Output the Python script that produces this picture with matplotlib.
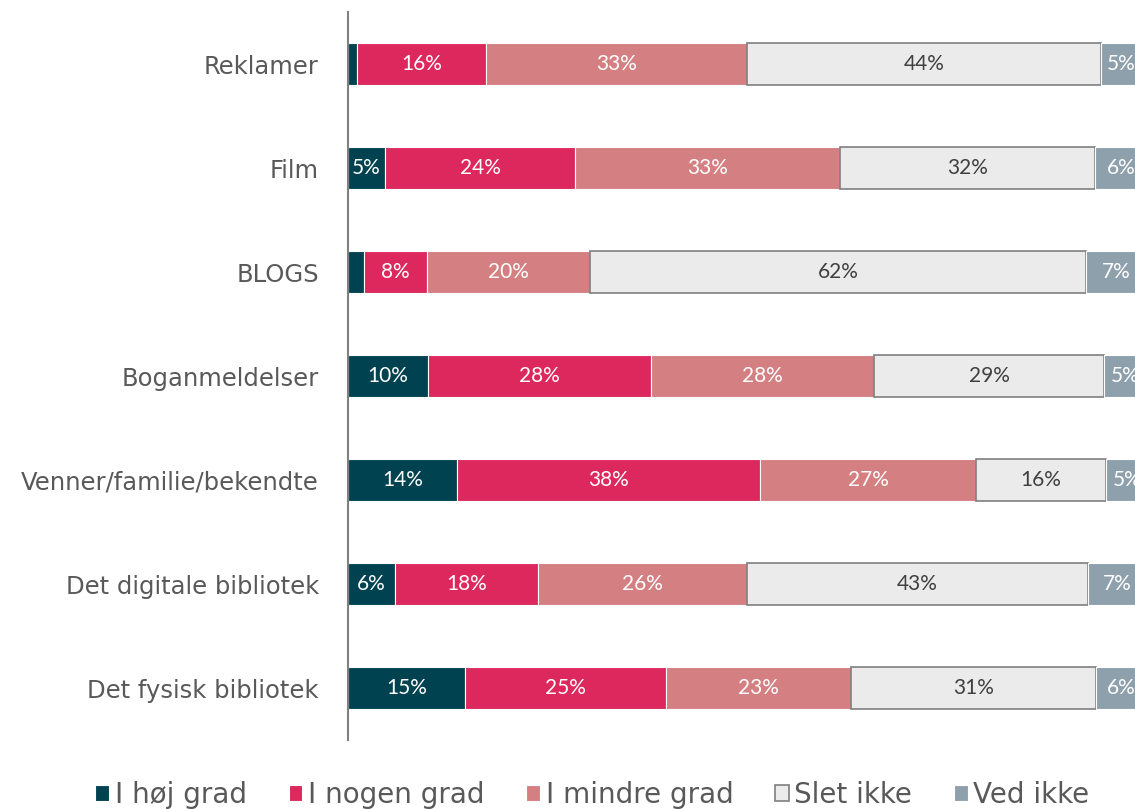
import matplotlib.pyplot as plt
import numpy as np

categories = ['Reklamer', 'Film', 'BLOGS', 'Boganmeldelser',
              'Venner/familie/bekendte', 'Det digitale bibliotek', 'Det fysisk bibliotek']
series = ['I høj grad', 'I nogen grad', 'I mindre grad', 'Slet ikke', 'Ved ikke']

hoej = [1.1, 4.6, 2.0, 10.0, 13.6, 5.9, 14.6]
nogen = [16.2, 23.8, 7.9, 27.9, 37.9, 17.8, 25.2]
mindre = [32.6, 33.1, 20.4, 27.9, 27.0, 26.2, 23.1]
slet = [44.2, 31.9, 62.0, 28.7, 16.3, 42.6, 30.6]
vedikke = [5.0, 6.4, 7.4, 5.4, 5.1, 7.4, 6.3]

colors = ['#00424F', '#DD285D', '#D48083', '#EBEBEB', '#8FA0AD']
text_colors = ['white', 'white', 'white', '#404040', 'white']

data = [hoej, nogen, mindre, slet, vedikke]

fig = plt.figure(figsize=(11.35, 8.09), dpi=100)
ax = fig.add_axes([348 / 1135, 69 / 809, 800 / 1135, 728 / 809])

y = np.arange(len(categories))
left = np.zeros(len(categories))
for i, (vals, col) in enumerate(zip(data, colors)):
    vals = np.array(vals)
    if i == 3:
        bars = ax.barh(y, vals, left=left, height=0.4, color=col,
                       edgecolor='#7F7F7F', linewidth=1.2)
    else:
        bars = ax.barh(y, vals, left=left, height=0.4, color=col,
                       edgecolor='white', linewidth=0.8)
    for b, v in zip(bars, vals):
        if v < 3:
            continue
        ax.text(b.get_x() + b.get_width() / 2, b.get_y() + b.get_height() / 2,
                f'{round(v)}%', ha='center', va='center', color=text_colors[i],
                fontsize=15, family='Lato', clip_on=False)
    bars.set_label(series[i])
    left += vals

ax.set_xlim(0, 100)
ax.set_ylim(len(categories) - 0.5, -0.5)
ax.set_yticks(y)
ax.set_yticklabels(categories, fontsize=17.5, color='#595959')
ax.tick_params(axis='y', length=0, pad=21)
ax.set_xticks([])
for s in ['top', 'right', 'bottom']:
    ax.spines[s].set_visible(False)
ax.spines['left'].set_color('#808080')
ax.spines['left'].set_linewidth(1.5)

handles, labels = ax.get_legend_handles_labels()
leg = fig.legend(handles, labels, loc='center',
                 bbox_to_anchor=(0.5 + 25 / 1135, 14 / 809),
                 ncol=5, frameon=False, fontsize=20, handlelength=0.5,
                 handleheight=0.5, handletextpad=0.2, columnspacing=1.5,
                 labelcolor='#595959')

fig.savefig('out.png', dpi=100)
